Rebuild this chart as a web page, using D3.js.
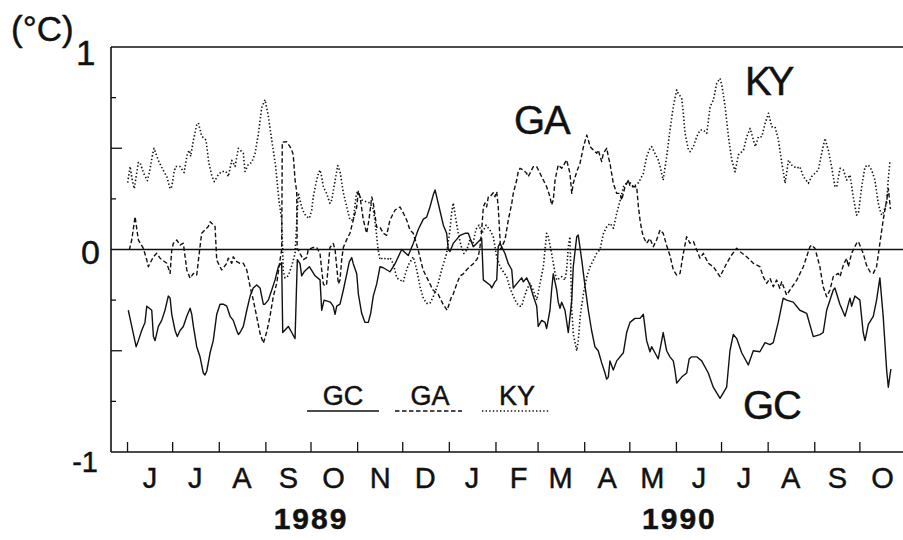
<!DOCTYPE html>
<html>
<head>
<meta charset="utf-8">
<script src="https://cdn.jsdelivr.net/npm/d3@7"></script>
<style>
  html, body { margin: 0; padding: 0; background: #fff; }
  svg { display: block; font-family: "Liberation Sans", Arial, Helvetica, sans-serif; }
  svg text { stroke: #111; stroke-width: 0.45px; }
</style>
</head>
<body>
<svg id="chart" width="903" height="540"></svg>
<script>
// Daily temperature anomalies (°C); each point is [days since 1 June 1989, anomaly]
const gcSeries = [[0.5,-0.30],[2.8,-0.38],[5.7,-0.48],[7.2,-0.45],[9.4,-0.40],[11.6,-0.36],[12.8,-0.28],[16.1,-0.30],[17.2,-0.43],[18.3,-0.45],[20.5,-0.38],[22.7,-0.35],[24.9,-0.30],[27.1,-0.23],[28.3,-0.24],[29.4,-0.32],[31.6,-0.40],[33.1,-0.43],[34.9,-0.40],[37.1,-0.38],[39.4,-0.33],[41.6,-0.29],[42.7,-0.32],[43.8,-0.38],[46.0,-0.48],[48.2,-0.53],[50.4,-0.61],[51.5,-0.62],[52.7,-0.60],[54.9,-0.51],[57.0,-0.45],[59.3,-0.32],[61.5,-0.27],[63.7,-0.27],[66.0,-0.28],[68.2,-0.33],[70.3,-0.35],[72.6,-0.40],[73.7,-0.42],[74.8,-0.41],[77.0,-0.38],[79.3,-0.30],[81.5,-0.23],[83.6,-0.19],[85.9,-0.175],[88.1,-0.19],[89.2,-0.23],[90.3,-0.27],[91.4,-0.27],[93.6,-0.25],[95.9,-0.20],[98.1,-0.15],[100.3,-0.085],[102.5,-0.065],[103.2,-0.41],[106.9,-0.38],[109.2,-0.41],[111.4,-0.44],[112.9,-0.05],[114.7,-0.07],[115.8,-0.13],[117.4,-0.11],[120.9,-0.085],[124.7,-0.13],[128.0,-0.15],[129.1,-0.30],[130.7,-0.25],[134.9,-0.26],[136.8,-0.28],[138.0,-0.32],[139.1,-0.28],[141.3,-0.27],[143.5,-0.20],[145.8,-0.12],[147.5,-0.06],[149.1,-0.04],[150.1,-0.07],[152.4,-0.12],[153.5,-0.22],[155.7,-0.315],[157.9,-0.36],[160.1,-0.36],[161.7,-0.315],[163.4,-0.23],[165.7,-0.17],[167.9,-0.085],[170.1,-0.09],[174.5,-0.11],[177.9,-0.07],[182.3,0.0],[186.7,-0.03],[190.0,0.03],[193.4,0.10],[196.7,0.15],[198.9,0.16],[201.1,0.21],[203.3,0.27],[204.5,0.294],[205.6,0.26],[207.8,0.19],[210.0,0.12],[212.2,0.08],[213.3,0.0],[214.4,-0.01],[216.6,0.03],[221.1,0.07],[224.4,0.08],[226.6,0.08],[229.9,0.014],[234.4,0.047],[235.5,0.055],[236.6,-0.15],[241.0,-0.175],[242.2,-0.19],[244.3,-0.16],[245.5,-0.15],[246.5,0.014],[247.7,0.03],[251.0,-0.02],[253.2,-0.07],[255.5,-0.10],[256.5,-0.19],[259.8,-0.16],[262.1,-0.14],[263.2,-0.16],[265.4,-0.14],[267.6,-0.175],[269.8,-0.23],[272.1,-0.28],[273.1,-0.38],[275.4,-0.35],[277.6,-0.36],[278.7,-0.39],[280.9,-0.30],[282.0,-0.20],[283.1,-0.12],[285.4,-0.20],[286.4,-0.26],[287.6,-0.29],[288.7,-0.26],[290.9,-0.30],[293.1,-0.41],[295.4,-0.25],[296.4,-0.085],[298.7,0.063],[299.7,0.072],[302.0,-0.05],[304.2,-0.18],[306.4,-0.30],[308.6,-0.40],[310.8,-0.48],[313.0,-0.50],[315.3,-0.56],[317.5,-0.61],[318.6,-0.64],[319.7,-0.63],[320.8,-0.55],[323.0,-0.595],[325.3,-0.55],[329.7,-0.51],[331.9,-0.41],[334.1,-0.36],[337.4,-0.34],[340.8,-0.34],[343.0,-0.32],[345.2,-0.45],[347.4,-0.505],[348.5,-0.48],[350.7,-0.51],[352.9,-0.54],[355.2,-0.45],[356.2,-0.41],[358.5,-0.50],[360.7,-0.53],[362.9,-0.55],[364.0,-0.595],[365.2,-0.66],[368.5,-0.63],[371.8,-0.61],[373.5,-0.54],[375.1,-0.53],[378.5,-0.53],[381.8,-0.55],[386.2,-0.61],[389.5,-0.68],[394.0,-0.735],[398.4,-0.68],[400.6,-0.50],[402.8,-0.42],[405.1,-0.44],[408.4,-0.51],[412.8,-0.57],[416.1,-0.50],[420.5,-0.505],[423.9,-0.46],[427.2,-0.47],[429.4,-0.46],[432.7,-0.36],[436.0,-0.24],[438.3,-0.25],[442.7,-0.26],[447.1,-0.30],[451.6,-0.315],[456.0,-0.43],[460.4,-0.42],[462.6,-0.41],[464.9,-0.30],[469.3,-0.20],[470.4,-0.19],[473.7,-0.27],[477.1,-0.33],[480.4,-0.24],[481.5,-0.28],[483.7,-0.23],[487.0,-0.25],[489.2,-0.41],[490.4,-0.45],[492.6,-0.37],[495.9,-0.33],[498.1,-0.25],[500.3,-0.14],[502.5,-0.33],[504.8,-0.595],[505.9,-0.68],[507.6,-0.59]];

const gaSeries = [[1.2,-0.002],[2.8,0.047],[5.0,0.162],[7.2,0.047],[10.5,0.006],[12.8,-0.052],[13.8,-0.085],[17.2,-0.036],[19.4,-0.019],[21.6,-0.043],[26.1,-0.068],[28.3,-0.118],[29.4,-0.002],[30.5,0.031],[32.7,0.047],[34.9,0.022],[37.1,0.031],[39.4,-0.101],[41.6,-0.142],[43.8,-0.118],[46.0,-0.126],[48.2,0.014],[49.3,0.08],[53.7,0.113],[54.9,0.137],[58.2,0.113],[59.3,-0.052],[62.6,-0.101],[66.0,-0.068],[67.0,-0.043],[69.3,-0.068],[70.3,-0.036],[72.6,-0.06],[74.8,-0.068],[77.0,-0.068],[79.3,-0.101],[81.5,-0.184],[83.6,-0.249],[85.9,-0.332],[88.1,-0.414],[90.3,-0.463],[92.6,-0.406],[94.7,-0.332],[96.9,-0.233],[99.2,-0.167],[101.4,-0.052],[102.5,-0.002],[102.9,0.53],[105.8,0.532],[108.0,0.508],[109.2,0.491],[110.2,0.467],[111.4,0.343],[112.5,0.285],[112.8,0.0],[113.6,0.0],[114.7,-0.02],[116.9,-0.05],[119.1,-0.04],[120.2,0.0],[123.5,0.01],[125.8,0.01],[128.0,-0.02],[129.1,-0.10],[130.2,-0.17],[131.3,-0.18],[132.4,-0.17],[134.6,0.01],[136.8,0.03],[138.0,0.0],[139.1,-0.085],[140.2,-0.17],[141.3,-0.15],[142.4,-0.05],[143.5,0.01],[145.8,0.05],[147.9,0.08],[150.1,0.146],[152.4,0.21],[153.5,0.29],[154.6,0.26],[156.8,0.146],[159.0,0.08],[160.6,0.15],[162.4,0.26],[163.4,0.23],[165.7,0.11],[167.9,0.11],[170.1,0.08],[172.3,0.07],[174.5,0.146],[177.9,0.195],[181.2,0.21],[183.4,0.18],[185.6,0.146],[187.8,0.096],[190.0,0.08],[193.2,0.0],[196.5,-0.10],[199.8,-0.15],[203.1,-0.20],[206.5,-0.22],[209.8,-0.27],[212.5,-0.30],[215.6,-0.23],[216.6,-0.22],[218.9,-0.17],[221.1,-0.13],[223.3,-0.12],[225.5,-0.10],[227.7,-0.085],[229.9,-0.07],[232.2,-0.05],[233.2,-0.036],[234.4,0.014],[235.5,0.096],[236.6,0.21],[237.7,0.23],[238.8,0.21],[239.9,0.26],[241.0,0.26],[243.2,0.28],[244.3,0.26],[245.5,0.285],[246.5,0.21],[247.7,0.05],[248.1,0.0],[249.9,0.03],[251.0,0.047],[253.2,0.146],[255.5,0.228],[256.5,0.277],[258.8,0.343],[259.8,0.384],[261.0,0.401],[263.2,0.393],[265.4,0.376],[266.4,0.36],[267.6,0.376],[269.8,0.409],[272.1,0.409],[274.3,0.376],[276.5,0.343],[278.7,0.31],[280.9,0.261],[282.0,0.22],[283.1,0.244],[284.3,0.343],[286.4,0.417],[288.7,0.401],[292.0,0.442],[294.2,0.376],[295.4,0.277],[296.4,0.327],[298.7,0.384],[300.9,0.426],[303.2,0.508],[305.4,0.565],[306.4,0.541],[307.6,0.508],[309.8,0.491],[312.0,0.475],[313.0,0.491],[315.3,0.434],[316.4,0.475],[318.7,0.5],[319.7,0.458],[320.8,0.426],[323.0,0.327],[325.3,0.277],[327.6,0.277],[328.6,0.244],[330.8,0.31],[333.1,0.343],[334.2,0.31],[336.4,0.31],[338.6,0.31],[339.7,0.211],[340.8,0.146],[341.9,0.096],[343.0,0.063],[345.2,0.031],[347.4,0.055],[349.6,0.014],[351.8,0.047],[354.1,0.096],[356.2,0.08],[358.5,0.02],[360.7,-0.03],[362.9,-0.10],[365.2,-0.126],[367.4,-0.118],[369.6,-0.019],[371.8,0.063],[374.0,0.031],[376.3,0.039],[378.5,-0.002],[380.7,-0.043],[382.9,-0.019],[386.2,-0.068],[389.5,-0.085],[394.0,-0.134],[396.2,-0.101],[398.4,-0.068],[401.7,-0.027],[405.1,0.006],[407.3,-0.011],[411.7,-0.036],[416.1,-0.068],[420.5,-0.085],[422.7,-0.134],[425.0,-0.167],[427.2,-0.142],[429.4,-0.184],[431.6,-0.151],[433.8,-0.192],[435.0,-0.159],[438.3,-0.225],[440.5,-0.2],[445.0,-0.151],[449.4,-0.085],[453.8,0.014],[454.9,0.022],[457.1,0.006],[460.4,-0.085],[462.6,-0.184],[464.9,-0.233],[467.1,-0.2],[469.3,-0.134],[472.6,-0.118],[473.8,-0.134],[476.0,-0.077],[478.2,-0.043],[479.3,-0.085],[481.5,-0.019],[484.8,0.031],[486.0,0.039],[489.2,-0.019],[491.4,-0.077],[493.7,-0.11],[495.9,-0.118],[498.1,-0.085],[500.3,0.031],[502.5,0.146],[504.8,0.244],[506.0,0.30],[507.3,0.2]];

const kySeries = [[0.1,0.33],[1.7,0.41],[3.2,0.34],[4.5,0.30],[5.7,0.36],[7.2,0.43],[8.3,0.43],[10.5,0.38],[13.2,0.34],[14.5,0.38],[16.8,0.475],[17.6,0.50],[20.5,0.44],[23.1,0.40],[26.1,0.36],[28.3,0.30],[29.4,0.31],[30.9,0.38],[32.0,0.41],[34.9,0.41],[37.6,0.38],[39.8,0.475],[41.1,0.49],[42.0,0.46],[43.8,0.54],[46.0,0.615],[47.1,0.625],[49.3,0.56],[52.2,0.54],[54.0,0.43],[56.2,0.36],[57.7,0.335],[60.4,0.37],[62.6,0.385],[65.5,0.385],[67.0,0.36],[69.3,0.44],[71.5,0.41],[73.7,0.50],[77.0,0.475],[78.1,0.385],[80.3,0.42],[82.6,0.43],[84.8,0.475],[87.0,0.57],[89.2,0.70],[91.4,0.74],[93.6,0.66],[95.9,0.54],[98.5,0.41],[100.7,0.24],[102.5,0.15],[103.6,-0.11],[104.7,-0.14],[106.9,-0.13],[109.2,-0.08],[111.4,-0.02],[113.6,0.28],[114.7,0.244],[115.8,0.211],[117.4,0.179],[119.1,0.162],[120.9,0.154],[122.5,0.195],[123.5,0.26],[125.3,0.327],[126.9,0.376],[128.0,0.393],[129.1,0.36],[130.2,0.31],[132.4,0.277],[134.6,0.228],[135.8,0.245],[138.0,0.34],[139.8,0.415],[141.3,0.385],[143.5,0.28],[145.8,0.21],[147.9,0.146],[150.1,0.146],[151.9,0.26],[152.8,0.285],[155.7,0.245],[159.0,0.235],[161.2,0.23],[163.4,0.20],[165.2,0.10],[166.6,0.0],[167.9,-0.05],[170.1,-0.04],[172.5,-0.05],[174.5,-0.04],[176.7,-0.07],[179.0,-0.14],[181.2,-0.15],[183.4,-0.16],[184.5,-0.126],[186.7,-0.077],[190.0,-0.036],[192.3,-0.10],[194.5,-0.184],[196.7,-0.241],[198.9,-0.266],[201.1,-0.266],[203.3,-0.233],[206.6,-0.167],[208.9,-0.10],[212.2,-0.019],[214.4,0.096],[215.5,0.18],[216.6,0.23],[218.4,0.146],[219.9,0.08],[221.7,0.02],[223.7,-0.02],[225.7,0.0],[227.7,0.05],[229.7,0.03],[231.7,0.10],[233.7,0.12],[235.7,0.08],[238.4,0.12],[241.0,0.096],[243.2,0.063],[245.5,-0.036],[247.7,-0.085],[249.9,-0.11],[252.1,-0.134],[254.3,-0.19],[256.5,-0.23],[258.8,-0.266],[261.0,-0.28],[262.1,-0.28],[263.2,-0.25],[265.4,-0.20],[267.6,-0.167],[269.8,-0.20],[272.1,-0.25],[276.5,-0.085],[278.7,0.08],[279.8,0.063],[282.0,-0.019],[284.3,-0.118],[285.4,-0.151],[288.7,-0.134],[290.9,-0.151],[292.0,-0.101],[293.1,0.014],[294.2,0.063],[295.4,-0.30],[296.5,-0.42],[298.7,-0.50],[299.8,-0.447],[301.0,-0.33],[303.2,-0.216],[305.4,-0.134],[307.6,-0.085],[309.8,-0.052],[312.0,-0.019],[314.2,0.0],[316.5,0.08],[318.7,0.113],[320.9,0.129],[323.1,0.105],[325.3,0.179],[327.6,0.244],[329.8,0.31],[333.1,0.34],[336.4,0.31],[339.8,0.33],[343.0,0.376],[345.2,0.458],[347.4,0.50],[348.5,0.508],[350.7,0.475],[352.9,0.442],[354.1,0.41],[356.2,0.343],[358.5,0.458],[360.7,0.59],[362.9,0.705],[365.2,0.788],[366.2,0.771],[368.5,0.747],[369.6,0.673],[370.7,0.574],[373.0,0.491],[374.1,0.483],[376.3,0.508],[378.5,0.557],[380.7,0.59],[382.9,0.59],[385.2,0.574],[387.4,0.705],[389.6,0.738],[391.8,0.821],[394.0,0.845],[395.2,0.812],[397.4,0.705],[399.6,0.557],[401.8,0.442],[404.0,0.384],[406.2,0.467],[409.6,0.491],[411.8,0.557],[414.0,0.598],[416.2,0.541],[417.4,0.508],[419.6,0.557],[421.8,0.557],[424.0,0.623],[426.2,0.673],[428.4,0.606],[430.6,0.606],[432.8,0.541],[435.1,0.426],[437.3,0.327],[439.5,0.442],[441.7,0.417],[445.0,0.401],[447.1,0.409],[449.4,0.36],[452.7,0.327],[454.9,0.36],[459.4,0.393],[461.6,0.475],[463.8,0.549],[466.0,0.491],[468.2,0.409],[470.4,0.31],[471.6,0.31],[473.8,0.401],[476.0,0.393],[478.2,0.343],[480.4,0.368],[482.6,0.261],[484.8,0.17],[486.0,0.179],[488.2,0.31],[490.4,0.409],[492.6,0.417],[494.8,0.393],[497.0,0.343],[499.2,0.23],[500.3,0.195],[501.5,0.17],[502.5,0.18],[504.8,0.23],[505.9,0.35],[507.0,0.434]];

const monthLetters = ["J","J","A","S","O","N","D","J","F","M","A","M","J","J","A","S","O"];
const yearLabels = ["1989", "1990"];
const yTickLabels = ["1", "0", "-1"];
const legendNames = ["GC", "GA", "KY"];
const unitLabel = "(°C)";

const width = 903, height = 540;
const svg = d3.select("#chart");
svg.append("rect").attr("width", width).attr("height", height).attr("fill", "#fff");

const origin = new Date(Date.UTC(1989, 5, 1));
const toDate = d => new Date(origin.getTime() + d * 864e5);

const x = d3.scaleUtc()
  .domain([new Date(Date.UTC(1989, 4, 21)), new Date(Date.UTC(1990, 9, 31))])
  .range([111, 905]);
const y = d3.scaleLinear().domain([-1, 1]).range([452, 47]);

const left = x.range()[0];

// frame: left axis, top and bottom edges
const frame = svg.append("g").attr("stroke", "#111").attr("stroke-width", 1.6).attr("fill", "none");
frame.append("line").attr("x1", left).attr("x2", left).attr("y1", y(1)).attr("y2", y(-1));
frame.append("line").attr("x1", left).attr("x2", width).attr("y1", y(1)).attr("y2", y(1));
frame.append("line").attr("x1", left).attr("x2", width).attr("y1", y(-1)).attr("y2", y(-1));

// zero reference
svg.append("line").attr("x1", left).attr("x2", width).attr("y1", y(0)).attr("y2", y(0))
  .attr("stroke", "#111").attr("stroke-width", 1.5);

// inward y ticks every 0.25, longer at the halves
const yTicks = d3.range(-0.75, 1, 0.25).filter(v => Math.abs(v) > 1e-9);
svg.append("g").selectAll("line").data(yTicks).join("line")
  .attr("x1", left).attr("x2", v => left + (Math.abs(Math.abs(v) - 0.5) < 1e-9 ? 11 : 5))
  .attr("y1", v => y(v)).attr("y2", v => y(v))
  .attr("stroke", "#111").attr("stroke-width", 1.3);

// inward month ticks on the time axis
const monthStarts = d3.utcMonth.range(new Date(Date.UTC(1989, 5, 1)), new Date(Date.UTC(1990, 9, 2)));
svg.append("g").selectAll("line").data(monthStarts).join("line")
  .attr("x1", d => x(d)).attr("x2", d => x(d))
  .attr("y1", y(-1)).attr("y2", y(-1) - 10)
  .attr("stroke", "#111").attr("stroke-width", 1.3);

// month initials centred on each month
svg.append("g").selectAll("text").data(monthLetters).join("text")
  .attr("x", (m, i) => x(new Date(Date.UTC(1989, 5 + i, 16))))
  .attr("y", 488)
  .attr("text-anchor", "middle")
  .attr("font-size", 29)
  .attr("fill", "#111")
  .text(m => m);

// years
const yearCentres = [new Date(Date.UTC(1989, 9, 1)), new Date(Date.UTC(1990, 5, 3))];
svg.append("g").selectAll("text").data(yearLabels).join("text")
  .attr("x", (t, i) => x(yearCentres[i]))
  .attr("y", 529)
  .attr("text-anchor", "middle")
  .attr("font-size", 30)
  .attr("font-weight", "bold")
  .attr("letter-spacing", 2)
  .attr("fill", "#111")
  .text(t => t);

// y labels
svg.append("text").attr("x", 76).attr("y", y(1) + 18).attr("font-size", 35).attr("fill", "#111").text(yTickLabels[0]);
svg.append("text").attr("x", 100).attr("y", y(0) + 14).attr("text-anchor", "end").attr("font-size", 34).attr("fill", "#111").text(yTickLabels[1]);
svg.append("text").attr("x", 98).attr("y", y(-1) + 20).attr("text-anchor", "end").attr("font-size", 29).attr("fill", "#111").text(yTickLabels[2]);
svg.append("text").attr("x", 11).attr("y", 41).attr("font-size", 35).attr("fill", "#111").text(unitLabel);

// series
const line = d3.line()
  .x(d => x(toDate(d[0])))
  .y(d => y(d[1]));

const styles = {
  GC: { dash: null, width: 1.4 },
  GA: { dash: "4.5,2.5", width: 1.4 },
  KY: { dash: "1.4,2.2", width: 1.6 }
};
const seriesData = { GC: gcSeries, GA: gaSeries, KY: kySeries };

legendNames.forEach(name => {
  svg.append("path")
    .datum(seriesData[name])
    .attr("d", line)
    .attr("fill", "none")
    .attr("stroke", "#111")
    .attr("stroke-width", styles[name].width)
    .attr("stroke-dasharray", styles[name].dash)
    .attr("stroke-linejoin", "round");
});

// series labels in the plot
const bigLabels = [
  { name: "GA", x: 514, y: 134 },
  { name: "KY", x: 745, y: 95 },
  { name: "GC", x: 743, y: 419 }
];
svg.append("g").selectAll("text").data(bigLabels).join("text")
  .attr("x", d => d.x).attr("y", d => d.y)
  .attr("font-size", 40)
  .attr("letter-spacing", d => d.name === "KY" ? -4 : -1)
  .attr("fill", "#111")
  .text(d => d.name);

// legend
const legendItems = [
  { name: "GC", x1: 307, x2: 379, tx: 343 },
  { name: "GA", x1: 395, x2: 462, tx: 430 },
  { name: "KY", x1: 482, x2: 550, tx: 517 }
];
const lg = svg.append("g");
lg.selectAll("line").data(legendItems).join("line")
  .attr("x1", d => d.x1).attr("x2", d => d.x2)
  .attr("y1", 411).attr("y2", 411)
  .attr("stroke", "#111")
  .attr("stroke-width", d => styles[d.name].width)
  .attr("stroke-dasharray", d => styles[d.name].dash);
lg.selectAll("text").data(legendItems).join("text")
  .attr("x", d => d.tx).attr("y", 405)
  .attr("text-anchor", "middle")
  .attr("font-size", 27)
  .attr("fill", "#111")
  .text(d => d.name);
</script>
</body>
</html>
